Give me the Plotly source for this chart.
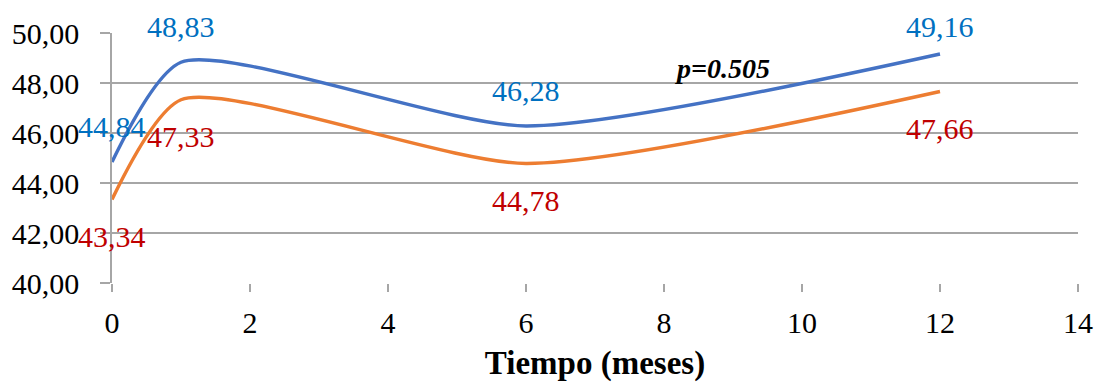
import plotly.graph_objects as go

# Months of follow-up and mean values for the two groups
meses = [0, 1, 6, 12]
grupo_a = [44.84, 48.83, 46.28, 49.16]
grupo_b = [43.34, 47.33, 44.78, 47.66]
x_ticks = [0, 2, 4, 6, 8, 10, 12, 14]
y_ticks = [40, 42, 44, 46, 48, 50]
p_text = "p=0.505"

SERIF = "Liberation Serif, Times New Roman, serif"
GRID = "#A6A6A6"
SMOOTH = 0.65

fig = go.Figure()
fig.add_trace(go.Scatter(
    x=meses, y=grupo_a, mode="lines",
    line=dict(color="#4472C4", width=3.5, shape="spline", smoothing=SMOOTH),
    hoverinfo="skip", showlegend=False,
))
fig.add_trace(go.Scatter(
    x=meses, y=grupo_b, mode="lines",
    line=dict(color="#ED7D31", width=3.5, shape="spline", smoothing=SMOOTH),
    hoverinfo="skip", showlegend=False,
))

def fmt(v):
    return f"{v:.2f}".replace(".", ",")

# Value labels: upper series above its points, lower series below
for xv, yv in zip(meses, grupo_a):
    fig.add_annotation(x=xv, y=yv, text=fmt(yv), showarrow=False,
                       yshift=36 if xv != 12 else 28,
                       font=dict(family=SERIF, size=30, color="#0070C0"))
for xv, yv in zip(meses, grupo_b):
    fig.add_annotation(x=xv, y=yv, text=fmt(yv), showarrow=False,
                       yshift=-37,
                       font=dict(family=SERIF, size=30, color="#C00000"))

fig.add_annotation(x=8.85, y=48.6, text=f"<b><i>{p_text}</i></b>", showarrow=False,
                   font=dict(family=SERIF, size=28, color="black"))

fig.update_layout(
    width=1105, height=386,
    margin=dict(l=112, r=22, t=33, b=103),
    paper_bgcolor="white", plot_bgcolor="white",
    separators=",.",
    font=dict(family=SERIF, size=30, color="black"),
)
fig.update_xaxes(
    range=[0, 14], tickvals=x_ticks, ticktext=[str(v) for v in x_ticks],
    showgrid=False, zeroline=False,
    showline=False, ticks="outside", ticklen=8, tickcolor=GRID, tickwidth=1.5,
    ticklabelstandoff=5,
    tickfont=dict(family=SERIF, size=30, color="black"),
    title=dict(text="<b>Tiempo (meses)</b>", standoff=12,
               font=dict(family=SERIF, size=33, color="black")),
)
fig.update_yaxes(
    range=[40, 50], tickvals=y_ticks, tickformat=".2f",
    showgrid=True, gridcolor=GRID, gridwidth=1.5, zeroline=False,
    showline=True, linecolor=GRID, linewidth=1.5,
    ticks="outside", ticklen=10, tickcolor=GRID, tickwidth=1.5,
    ticklabelstandoff=15,
    tickfont=dict(family=SERIF, size=30, color="black"),
)

fig.write_html("out.html")
